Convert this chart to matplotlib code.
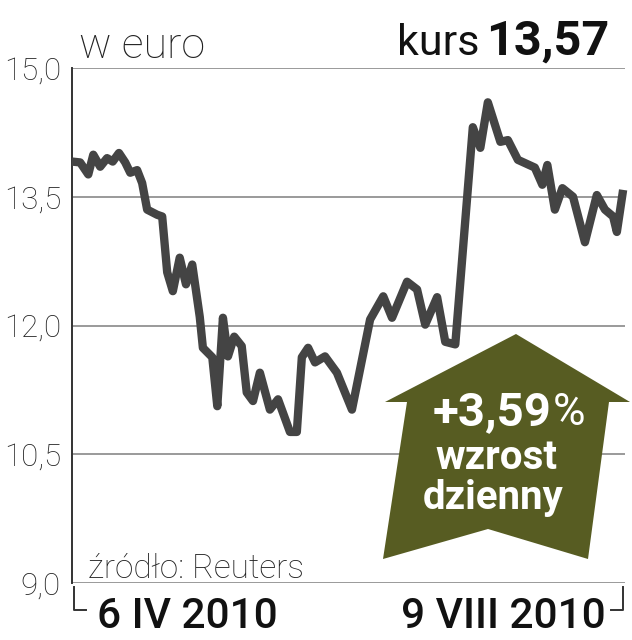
import matplotlib
matplotlib.use("Agg")
import matplotlib.pyplot as plt
from matplotlib.patches import Polygon
from matplotlib.lines import Line2D

# ---- data ----
days = [0, 1.3, 2.6, 3.4, 4.5, 5.6, 6.5, 7.5, 8.5, 9.3,
        10.4, 11.2, 12.0, 13.6, 14.4, 15.2, 16.1, 17.2, 18.2, 19.2,
        20.4, 20.9, 22.4, 23.2, 24.1, 24.9, 25.9, 27.1, 27.9, 28.9,
        30.0, 31.6, 32.9, 34.8, 35.9, 36.7, 37.7, 38.8, 40.4, 42.3,
        44.7, 47.6, 49.7, 51.1, 53.5, 55.1, 56.4, 58.3, 59.6, 61.2,
        64.0, 65.2, 66.4, 68.4, 69.6, 71.2, 73.9, 75.1, 75.9, 77.1,
        78.3, 80.0, 81.9, 83.8, 85.1, 86.4, 87.0, 88.0]
values = [13.91, 13.90, 13.76, 13.99, 13.85, 13.95, 13.91, 14.01, 13.90, 13.78,
          13.81, 13.66, 13.35, 13.29, 13.27, 12.62, 12.40, 12.79, 12.48, 12.71,
          12.10, 11.74, 11.63, 11.06, 12.09, 11.64, 11.87, 11.76, 11.22, 11.12,
          11.45, 11.02, 11.14, 10.76, 10.76, 11.63, 11.74, 11.57, 11.64, 11.45,
          11.02, 12.07, 12.34, 12.09, 12.51, 12.42, 12.01, 12.33, 11.81, 11.78,
          14.31, 14.07, 14.60, 14.14, 14.16, 13.93, 13.84, 13.64, 13.87, 13.35,
          13.60, 13.50, 12.97, 13.52, 13.35, 13.27, 13.09, 13.58]
y_ticks = [9.0, 10.5, 12.0, 13.5, 15.0]
y_tick_labels = ["9,0", "10,5", "12,0", "13,5", "15,0"]
date_labels = ["6 IV 2010", "9 VIII 2010"]
unit_label = "w euro"
price_label = "kurs"
price_value = "13,57"
change_label = "+3,59"
change_words = ["wzrost", "dzienny"]
source_label = "źródło: Reuters"

W, H = 632, 640
fig = plt.figure(figsize=(W / 100, H / 100), dpi=100)
fig.patch.set_facecolor("white")

def fx(x):
    return x / W

def fy(y):
    return 1 - y / H

ax_l, ax_r, ax_t, ax_b = 72, 625, 68, 583
ax = fig.add_axes([fx(ax_l), fy(ax_b), (ax_r - ax_l) / W, (ax_b - ax_t) / H])
ax.set_xlim(0, 88.3)
ax.set_ylim(9.0, 15.0)
for s in ["top", "right", "bottom"]:
    ax.spines[s].set_visible(False)
ax.spines["left"].set_color("#333333")
ax.spines["left"].set_linewidth(1.4)
ax.set_xticks([])
ax.set_yticks(y_ticks)
ax.set_yticklabels(y_tick_labels, fontfamily="Roboto", fontweight="light",
                   fontsize=22.5, color="#222222")
ax.tick_params(axis="y", length=0, pad=8)
for yv in y_ticks:
    ax.axhline(yv, color="#9a9a9a", lw=1.4, zorder=1)

ax.plot(days, values, color="#444444", lw=6.0, solid_joinstyle="round",
        solid_capstyle="butt", zorder=3, clip_on=False)

# bracket below axis
bc = "#333333"
for xs, ys in [([74, 74, 86], [587, 610, 610]), ([611, 623, 623], [610, 610, 587])]:
    fig.add_artist(Line2D([fx(v) for v in xs], [fy(v) for v in ys],
                          color=bc, lw=1.4, transform=fig.transFigure))

# arrow (decoration)
arrow_px = [(516, 334), (630, 402), (609, 402), (588, 559), (488, 529),
            (383, 559), (407, 402), (385, 402)]
fig.add_artist(Polygon([(fx(x), fy(y)) for x, y in arrow_px], closed=True,
                       facecolor="#575c22", edgecolor="none",
                       transform=fig.transFigure, zorder=5))

# texts
fig.text(fx(79), fy(58), unit_label, fontfamily="Roboto", fontweight="light",
         fontsize=31, color="#222222", va="baseline", ha="left")
fig.text(fx(479), fy(55), price_label, fontfamily="Roboto",
         fontsize=31, color="#111111", va="baseline", ha="right")
fig.text(fx(486), fy(55), price_value, fontfamily="Roboto",
         fontweight="bold", fontsize=35, color="#111111", va="baseline", ha="left")
fig.text(fx(88), fy(578), source_label, fontfamily="Roboto", fontweight="light",
         fontsize=24, color="#222222", va="baseline", ha="left")
fig.text(fx(97), fy(628), date_labels[0], fontfamily="Roboto", fontweight="medium",
         fontsize=30.5, color="#111111", va="baseline", ha="left")
fig.text(fx(606), fy(628), date_labels[1], fontfamily="Roboto", fontweight="medium",
         fontsize=30.5, color="#111111", va="baseline", ha="right")

fig.text(fx(552), fy(425), change_label, fontfamily="Roboto", fontweight="bold",
         fontsize=34, color="white", va="baseline", ha="right", zorder=6)
fig.text(fx(553), fy(425), "%", fontfamily="Roboto", fontweight="normal",
         fontsize=32, color="white", va="baseline", ha="left", zorder=6)
fig.text(fx(496), fy(469), change_words[0], fontfamily="Roboto", fontweight="bold",
         fontsize=29, color="white", va="baseline", ha="center", zorder=6)
fig.text(fx(493), fy(509), change_words[1], fontfamily="Roboto", fontweight="bold",
         fontsize=29, color="white", va="baseline", ha="center", zorder=6)

fig.savefig("out.png", dpi=100, facecolor="white")
